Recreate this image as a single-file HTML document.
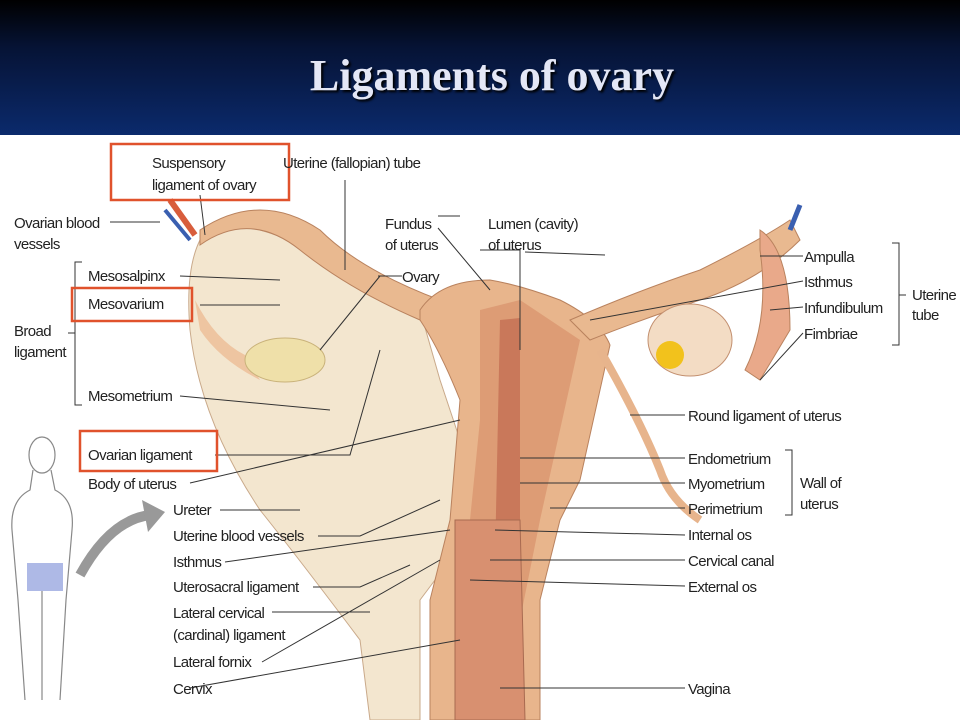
<!DOCTYPE html>
<html><head><meta charset="utf-8"><style>
html,body{margin:0;padding:0;width:960px;height:720px;overflow:hidden;background:#fff}
.hd{position:absolute;left:0;top:0;width:960px;height:135px;background:linear-gradient(#000 0%,#061335 35%,#0b2a6c 100%)}
.tt{position:absolute;left:0;width:984px;top:50px;text-align:center;font:bold 44px "Liberation Serif",serif;color:#e4e7f6;text-shadow:2px 2px 2px #000}
svg{position:absolute;left:0;top:135px}
text{font-family:"Liberation Sans",sans-serif;font-size:15px;fill:#222;letter-spacing:-0.6px}
</style></head><body>
<div class="hd"></div><div class="tt">Ligaments of ovary</div>
<svg width="960" height="585" viewBox="0 135 960 585">
<!-- broad ligament -->
<path d="M200 240 Q230 215 260 230 Q330 250 420 310 L440 380 L470 470 L450 560 L420 600 L420 720 L370 720 L360 640 Q300 560 260 510 Q200 420 190 330 Q185 270 200 240Z" fill="#f3e6cf" stroke="#c9a98a"/>
<!-- left tube -->
<path d="M200 245 Q250 210 300 250 Q350 290 420 320 L440 300 Q360 270 320 230 Q260 190 200 230Z" fill="#e9b990" stroke="#b9825e"/>
<path d="M195 300 Q215 340 245 355 L260 380 Q220 360 200 330Z" fill="#eec5a1"/>
<ellipse cx="285" cy="360" rx="40" ry="22" fill="#efe0a9" stroke="#c9b27a"/>
<!-- uterus body -->
<path d="M420 310 Q440 280 490 280 Q520 285 560 300 Q600 320 610 345 L600 390 L580 480 L560 520 L540 600 L540 720 L430 720 L430 600 L450 520 L455 460 L460 400 Q440 350 420 320Z" fill="#e8b58c" stroke="#b9825e"/>
<path d="M480 310 L520 300 L580 340 L560 430 L540 520 L520 620 L500 720 L470 720 L470 520 L480 420Z" fill="#dd9c75"/>
<path d="M500 320 L520 318 L520 560 L495 560 Z" fill="#c9785a"/>
<path d="M455 520 L520 520 L525 720 L455 720 Z" fill="#d89070" stroke="#a86a50"/>
<!-- right tube -->
<path d="M570 320 Q640 290 700 270 Q760 240 790 220 L800 240 Q760 280 700 300 Q640 320 590 340Z" fill="#e9b990" stroke="#b9825e"/>
<path d="M760 230 Q790 250 790 330 L760 380 L745 370 Q770 320 760 250Z" fill="#e9a98a" stroke="#b9825e"/>
<ellipse cx="690" cy="340" rx="42" ry="36" fill="#f3dcc4" stroke="#c39070"/>
<circle cx="670" cy="355" r="14" fill="#f2c21c"/>
<path d="M600 350 Q640 420 660 470 Q670 500 700 520" stroke="#e7b48c" stroke-width="8" fill="none"/>
<path d="M800 205 L790 230" stroke="#3a5fb0" stroke-width="5"/>
<path d="M170 200 L195 235" stroke="#d85d3c" stroke-width="6"/><path d="M165 210 L190 240" stroke="#3a5fb0" stroke-width="4"/>
<!-- person -->
<g fill="none" stroke="#888" stroke-width="1.2">
<ellipse cx="42" cy="455" rx="13" ry="18"/>
<path d="M33 470 L30 490 Q10 500 12 530 L18 600 L25 700 M51 470 L55 490 Q75 500 72 530 L66 600 L60 700 M42 590 L42 700"/>
</g>
<rect x="27" y="563" width="36" height="28" fill="#aeb9e6"/>
<path d="M80 575 Q110 520 150 515" stroke="#999" stroke-width="10" fill="none"/>
<path d="M142 500 L165 512 L148 532Z" fill="#999"/>
<!-- leader lines -->
<g stroke="#333" stroke-width="1" fill="none">
<path d="M110 222 L160 222 M200 195 L205 235 M345 180 L345 270 M438 228 L490 290 M480 250 L520 250 L520 350 M380 276 L320 350 M180 276 L280 280 M200 305 L280 305 M180 396 L330 410 M215 455 L350 455 L380 350 M190 483 L460 420 M220 510 L300 510 M318 536 L360 536 L440 500 M225 562 L450 530 M313 587 L360 587 L410 565 M272 612 L370 612 M262 662 L440 560 M190 688 L460 640 M605 255 L525 252 M803 256 L760 256 M803 281 L590 320 M803 307 L770 310 M803 333 L760 380 M685 415 L630 415 M685 458 L520 458 M685 483 L520 483 M685 508 L550 508 M685 535 L495 530 M685 560 L490 560 M685 586 L470 580 M685 688 L500 688 M460 216 L438 216 M378 276 L402 276"/>
<path d="M82 262 L75 262 L75 405 L82 405 M75 333 L68 333 M785 450 L792 450 L792 515 L785 515 M892 243 L899 243 L899 345 L892 345 M899 295 L906 295"/>
</g>
<!-- red boxes -->
<g fill="none" stroke="#e0522c" stroke-width="2.5">
<rect x="111" y="144" width="178" height="56"/><rect x="72" y="288" width="120" height="33"/><rect x="80" y="431" width="137" height="40"/>
</g>
<text x="152" y="168">Suspensory</text><text x="152" y="190">ligament of ovary</text>
<text x="283" y="168">Uterine (fallopian) tube</text>
<text x="14" y="228">Ovarian blood</text><text x="14" y="249">vessels</text>
<text x="385" y="229">Fundus</text><text x="385" y="250">of uterus</text>
<text x="488" y="229">Lumen (cavity)</text><text x="488" y="250">of uterus</text>
<text x="88" y="281">Mesosalpinx</text><text x="402" y="282">Ovary</text>
<text x="88" y="309">Mesovarium</text>
<text x="14" y="336">Broad</text><text x="14" y="357">ligament</text>
<text x="88" y="401">Mesometrium</text>
<text x="88" y="460">Ovarian ligament</text>
<text x="88" y="489">Body of uterus</text>
<text x="173" y="515">Ureter</text><text x="173" y="541">Uterine blood vessels</text>
<text x="173" y="567">Isthmus</text><text x="173" y="592">Uterosacral ligament</text>
<text x="173" y="618">Lateral cervical</text><text x="173" y="640">(cardinal) ligament</text>
<text x="173" y="667">Lateral fornix</text><text x="173" y="694">Cervix</text>
<text x="804" y="262">Ampulla</text><text x="804" y="287">Isthmus</text>
<text x="804" y="313">Infundibulum</text><text x="804" y="339">Fimbriae</text>
<text x="912" y="300">Uterine</text><text x="912" y="320">tube</text>
<text x="688" y="421">Round ligament of uterus</text>
<text x="688" y="464">Endometrium</text><text x="688" y="489">Myometrium</text><text x="688" y="514">Perimetrium</text>
<text x="800" y="488">Wall of</text><text x="800" y="509">uterus</text>
<text x="688" y="540">Internal os</text><text x="688" y="566">Cervical canal</text><text x="688" y="592">External os</text>
<text x="688" y="694">Vagina</text>
</svg>
</body></html>
